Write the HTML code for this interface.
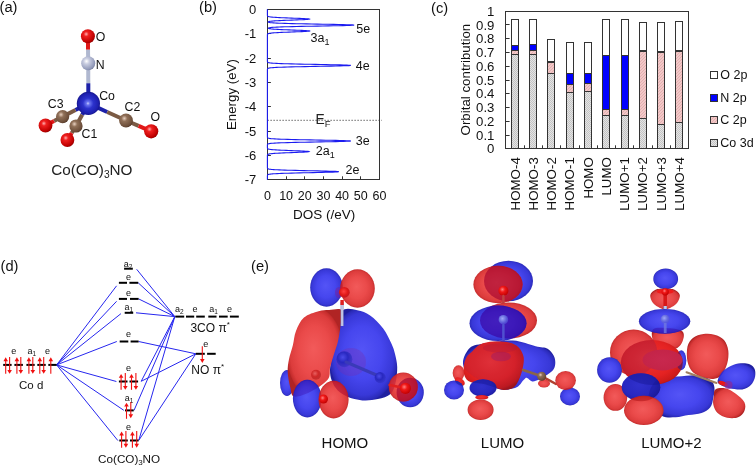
<!DOCTYPE html>
<html><head><meta charset="utf-8"><style>
html,body{margin:0;padding:0;background:#fff;}
svg{display:block;will-change:transform;}
text{font-family:"Liberation Sans", sans-serif;}
</style></head><body>
<svg width="756" height="466" viewBox="0 0 756 466">

<defs>
<radialGradient id="gRed" cx="0.38" cy="0.35" r="0.7">
 <stop offset="0" stop-color="#ffb0b0"/><stop offset="0.25" stop-color="#f02020"/><stop offset="0.8" stop-color="#c00000"/><stop offset="1" stop-color="#900000"/></radialGradient>
<radialGradient id="gN" cx="0.38" cy="0.35" r="0.7">
 <stop offset="0" stop-color="#ffffff"/><stop offset="0.3" stop-color="#c8cce0"/><stop offset="0.85" stop-color="#9098b8"/><stop offset="1" stop-color="#707898"/></radialGradient>
<radialGradient id="gCo" cx="0.5" cy="0.5" r="0.5" fx="0.48" fy="0.5">
 <stop offset="0" stop-color="#c8ccff"/><stop offset="0.15" stop-color="#6a74f0"/><stop offset="0.45" stop-color="#2c32cc"/><stop offset="0.85" stop-color="#1e20b0"/><stop offset="1" stop-color="#16168c"/></radialGradient>
<radialGradient id="gC" cx="0.38" cy="0.35" r="0.7">
 <stop offset="0" stop-color="#e8d0c0"/><stop offset="0.3" stop-color="#907058"/><stop offset="0.85" stop-color="#6a4c38"/><stop offset="1" stop-color="#4a3020"/></radialGradient>
<pattern id="pGray" width="2" height="2" patternUnits="userSpaceOnUse">
 <rect width="2" height="2" fill="#e4e4e4"/><rect width="1" height="1" fill="#c4c4c4"/><rect x="1" y="1" width="1" height="1" fill="#c4c4c4"/></pattern>
<pattern id="pPink" width="3" height="3" patternUnits="userSpaceOnUse">
 <rect width="3" height="3" fill="#f2c8c8"/><path d="M0,3 L3,0" stroke="#e0a8a8" stroke-width="0.8"/></pattern>
<radialGradient id="oR" cx="0.5" cy="0.5" r="0.52" fx="0.47" fy="0.45">
 <stop offset="0" stop-color="#f25a5a"/><stop offset="0.55" stop-color="#ea4a4a"/><stop offset="0.86" stop-color="#dc3c3c"/><stop offset="0.97" stop-color="#c42c2c"/><stop offset="1" stop-color="#b02424"/></radialGradient>
<radialGradient id="oB" cx="0.5" cy="0.5" r="0.52" fx="0.47" fy="0.45">
 <stop offset="0" stop-color="#5454f6"/><stop offset="0.55" stop-color="#4646ee"/><stop offset="0.86" stop-color="#3838d8"/><stop offset="0.97" stop-color="#2a2ab8"/><stop offset="1" stop-color="#2020a0"/></radialGradient>
<radialGradient id="oRd" cx="0.42" cy="0.4" r="0.65">
 <stop offset="0" stop-color="#e03040"/><stop offset="0.9" stop-color="#b82030"/><stop offset="1" stop-color="#a01828"/></radialGradient>
<radialGradient id="oBd" cx="0.42" cy="0.4" r="0.65">
 <stop offset="0" stop-color="#3030d0"/><stop offset="0.9" stop-color="#2020a8"/><stop offset="1" stop-color="#181890"/></radialGradient>
<radialGradient id="aR" cx="0.4" cy="0.38" r="0.65">
 <stop offset="0" stop-color="#ff8080"/><stop offset="0.4" stop-color="#f01818"/><stop offset="1" stop-color="#c00000"/></radialGradient>
<radialGradient id="aRin" cx="0.4" cy="0.38" r="0.65">
 <stop offset="0" stop-color="#e86060"/><stop offset="0.5" stop-color="#d02828"/><stop offset="1" stop-color="#b02020" stop-opacity="0.6"/></radialGradient>
<radialGradient id="aBin" cx="0.4" cy="0.38" r="0.65">
 <stop offset="0" stop-color="#4a4ae8"/><stop offset="0.5" stop-color="#2828c0"/><stop offset="1" stop-color="#3030c0" stop-opacity="0.5"/></radialGradient>
<radialGradient id="aNin" cx="0.4" cy="0.38" r="0.65">
 <stop offset="0" stop-color="#a0a8f8"/><stop offset="0.5" stop-color="#6a70e0"/><stop offset="1" stop-color="#5050d8" stop-opacity="0.6"/></radialGradient>
<radialGradient id="oRs" cx="0.45" cy="0.42" r="0.62">
 <stop offset="0" stop-color="#f03232"/><stop offset="0.65" stop-color="#e42222"/><stop offset="0.9" stop-color="#cc1a1a"/><stop offset="1" stop-color="#a81414"/></radialGradient>
<radialGradient id="oBs" cx="0.45" cy="0.42" r="0.62">
 <stop offset="0" stop-color="#3030cc"/><stop offset="0.65" stop-color="#2828c0"/><stop offset="0.9" stop-color="#2020a8"/><stop offset="1" stop-color="#181890"/></radialGradient>
<radialGradient id="oCr" cx="0.5" cy="0.5" r="0.6">
 <stop offset="0" stop-color="#c8284e"/><stop offset="0.8" stop-color="#c42448"/><stop offset="1" stop-color="#c02040" stop-opacity="0.7"/></radialGradient>
<linearGradient id="stickG" x1="0" y1="0" x2="1" y2="0">
 <stop offset="0" stop-color="#8088c0"/><stop offset="0.45" stop-color="#d8dcf4"/><stop offset="1" stop-color="#9098c8"/></linearGradient>
<radialGradient id="aRo" cx="0.45" cy="0.42" r="0.6">
 <stop offset="0" stop-color="#ff4040"/><stop offset="0.6" stop-color="#e01818"/><stop offset="1" stop-color="#c01820"/></radialGradient>
</defs>

<text x="-0.5" y="11.5" font-size="14.7" text-anchor="start" fill="#111" >(a)</text>
<line x1="87.9" y1="36.2" x2="88.05000000000001" y2="49.75" stroke="#e01818" stroke-width="4"/>
<line x1="88.05000000000001" y1="49.75" x2="88.2" y2="63.3" stroke="#b0b8d0" stroke-width="4"/>
<line x1="88.2" y1="63.3" x2="88.30000000000001" y2="83.35" stroke="#b0b8d0" stroke-width="4"/>
<line x1="88.30000000000001" y1="83.35" x2="88.4" y2="103.4" stroke="#1c20a8" stroke-width="4"/>
<line x1="88.4" y1="103.4" x2="75.5" y2="110.0" stroke="#1c20a8" stroke-width="4"/>
<line x1="75.5" y1="110.0" x2="62.6" y2="116.6" stroke="#7a5a44" stroke-width="4"/>
<line x1="62.6" y1="116.6" x2="54.05" y2="121.05" stroke="#7a5a44" stroke-width="4"/>
<line x1="54.05" y1="121.05" x2="45.5" y2="125.5" stroke="#e01818" stroke-width="4"/>
<line x1="88.4" y1="103.4" x2="82.2" y2="114.7" stroke="#1c20a8" stroke-width="4"/>
<line x1="82.2" y1="114.7" x2="76.0" y2="126.0" stroke="#7a5a44" stroke-width="4"/>
<line x1="76.0" y1="126.0" x2="71.7" y2="133.0" stroke="#7a5a44" stroke-width="4"/>
<line x1="71.7" y1="133.0" x2="67.4" y2="140.0" stroke="#e01818" stroke-width="4"/>
<line x1="88.4" y1="103.4" x2="107.2" y2="111.95" stroke="#1c20a8" stroke-width="4"/>
<line x1="107.2" y1="111.95" x2="126.0" y2="120.5" stroke="#7a5a44" stroke-width="4"/>
<line x1="126.0" y1="120.5" x2="138.6" y2="125.9" stroke="#7a5a44" stroke-width="4"/>
<line x1="138.6" y1="125.9" x2="151.2" y2="131.3" stroke="#e01818" stroke-width="4"/>
<circle cx="87.9" cy="36.2" r="7.0" fill="url(#gRed)"/>
<circle cx="88.2" cy="63.3" r="7.0" fill="url(#gN)"/>
<circle cx="151.2" cy="131.3" r="7.1" fill="url(#gRed)"/>
<circle cx="126.0" cy="120.5" r="6.9" fill="url(#gC)"/>
<circle cx="45.5" cy="125.5" r="6.9" fill="url(#gRed)"/>
<circle cx="62.6" cy="116.6" r="6.6" fill="url(#gC)"/>
<circle cx="88.4" cy="103.4" r="11.6" fill="url(#gCo)"/>
<circle cx="67.4" cy="140.0" r="6.9" fill="url(#gRed)"/>
<circle cx="76.0" cy="126.0" r="6.6" fill="url(#gC)"/>
<text x="95.8" y="40.6" font-size="12.3" text-anchor="start" fill="#111" >O</text>
<text x="95.8" y="68.6" font-size="12.3" text-anchor="start" fill="#111" >N</text>
<text x="99.2" y="100.3" font-size="12.3" text-anchor="start" fill="#111" >Co</text>
<text x="47.8" y="107.8" font-size="12.3" text-anchor="start" fill="#111" >C3</text>
<text x="81.5" y="138.4" font-size="12.3" text-anchor="start" fill="#111" >C1</text>
<text x="124.5" y="111.4" font-size="12.3" text-anchor="start" fill="#111" >C2</text>
<text x="150.6" y="121.4" font-size="12.3" text-anchor="start" fill="#111" >O</text>
<text x="51.2" y="174.5" font-size="15.3" fill="#222">Co(CO)<tspan font-size="10.2" dy="3">3</tspan><tspan dy="-3">NO</tspan></text>
<text x="199" y="11.5" font-size="14.7" text-anchor="start" fill="#111" >(b)</text>
<text x="256.2" y="13.9" font-size="13" text-anchor="end" fill="#111" >0</text>
<line x1="267.4" y1="33.5" x2="270.9" y2="33.5" stroke="#333" stroke-width="1"/>
<text x="256.2" y="38.25714285714286" font-size="13" text-anchor="end" fill="#111" >-1</text>
<line x1="267.4" y1="58.5" x2="270.9" y2="58.5" stroke="#333" stroke-width="1"/>
<text x="256.2" y="62.61428571428572" font-size="13" text-anchor="end" fill="#111" >-2</text>
<line x1="267.4" y1="82.5" x2="270.9" y2="82.5" stroke="#333" stroke-width="1"/>
<text x="256.2" y="86.97142857142856" font-size="13" text-anchor="end" fill="#111" >-3</text>
<line x1="267.4" y1="106.5" x2="270.9" y2="106.5" stroke="#333" stroke-width="1"/>
<text x="256.2" y="111.32857142857142" font-size="13" text-anchor="end" fill="#111" >-4</text>
<line x1="267.4" y1="131.5" x2="270.9" y2="131.5" stroke="#333" stroke-width="1"/>
<text x="256.2" y="135.68571428571428" font-size="13" text-anchor="end" fill="#111" >-5</text>
<line x1="267.4" y1="155.5" x2="270.9" y2="155.5" stroke="#333" stroke-width="1"/>
<text x="256.2" y="160.04285714285714" font-size="13" text-anchor="end" fill="#111" >-6</text>
<text x="256.2" y="184.4" font-size="13" text-anchor="end" fill="#111" >-7</text>
<text x="267.4" y="199.8" font-size="12.5" text-anchor="middle" fill="#111" >0</text>
<line x1="286.5" y1="179.8" x2="286.5" y2="176.3" stroke="#333" stroke-width="1"/>
<text x="286.0833333333333" y="199.8" font-size="12.5" text-anchor="middle" fill="#111" >10</text>
<line x1="304.5" y1="179.8" x2="304.5" y2="176.3" stroke="#333" stroke-width="1"/>
<text x="304.76666666666665" y="199.8" font-size="12.5" text-anchor="middle" fill="#111" >20</text>
<line x1="323.5" y1="179.8" x2="323.5" y2="176.3" stroke="#333" stroke-width="1"/>
<text x="323.45" y="199.8" font-size="12.5" text-anchor="middle" fill="#111" >30</text>
<line x1="342.5" y1="179.8" x2="342.5" y2="176.3" stroke="#333" stroke-width="1"/>
<text x="342.1333333333333" y="199.8" font-size="12.5" text-anchor="middle" fill="#111" >40</text>
<line x1="360.5" y1="179.8" x2="360.5" y2="176.3" stroke="#333" stroke-width="1"/>
<text x="360.81666666666666" y="199.8" font-size="12.5" text-anchor="middle" fill="#111" >50</text>
<text x="379.5" y="199.8" font-size="12.5" text-anchor="middle" fill="#111" >60</text>
<line x1="267.4" y1="120.3" x2="382" y2="120.3" stroke="#444" stroke-width="0.8" stroke-dasharray="1.5,1.5"/>
<text x="315.5" y="123.6" font-size="13.8" fill="#222">E<tspan font-size="9.5" dy="3">F</tspan></text>
<rect x="267.5" y="9.5" width="112.0" height="170.0" fill="none" stroke="#333" stroke-width="1"/>
<polyline points="267.40,9.30 267.40,9.40 267.40,9.50 267.40,9.60 267.40,9.70 267.40,9.80 267.40,9.90 267.40,10.00 267.40,10.10 267.40,10.20 267.40,10.30 267.40,10.40 267.40,10.50 267.40,10.60 267.40,10.70 267.40,10.80 267.40,10.90 267.40,11.00 267.40,11.10 267.40,11.20 267.40,11.30 267.40,11.40 267.40,11.50 267.40,11.60 267.40,11.70 267.40,11.80 267.40,11.90 267.40,12.00 267.40,12.10 267.40,12.20 267.40,12.30 267.40,12.40 267.40,12.50 267.40,12.60 267.40,12.70 267.40,12.80 267.40,12.90 267.40,13.00 267.40,13.10 267.40,13.20 267.40,13.30 267.40,13.40 267.40,13.50 267.40,13.60 267.40,13.70 267.40,13.80 267.40,13.90 267.40,14.00 267.40,14.10 267.40,14.20 267.40,14.30 267.40,14.40 267.40,14.50 267.40,14.60 267.40,14.70 267.40,14.80 267.40,14.90 267.40,15.00 267.41,15.10 267.41,15.20 267.41,15.30 267.42,15.40 267.43,15.50 267.45,15.60 267.47,15.70 267.50,15.80 267.54,15.90 267.60,16.00 267.69,16.10 267.80,16.20 267.95,16.30 268.14,16.40 268.39,16.50 268.72,16.60 269.13,16.70 269.64,16.80 270.28,16.90 271.05,17.00 271.98,17.10 273.09,17.20 274.38,17.30 275.88,17.40 277.58,17.50 279.49,17.60 281.59,17.70 283.88,17.80 286.33,17.90 288.90,18.00 291.56,18.10 294.24,18.20 296.89,18.30 299.44,18.40 301.84,18.50 304.00,18.60 305.87,18.70 307.39,18.80 308.52,18.90 309.21,19.00 309.44,19.10 309.21,19.20 308.52,19.30 307.39,19.40 305.87,19.50 304.00,19.60 301.84,19.70 299.44,19.80 296.89,19.90 294.24,20.00 291.56,20.10 288.90,20.20 286.33,20.30 283.88,20.40 281.59,20.50 279.49,20.60 277.58,20.70 275.88,20.80 274.39,20.90 273.10,21.00 272.00,21.10 271.07,21.20 270.31,21.30 269.69,21.40 269.19,21.50 268.82,21.60 268.54,21.70 268.35,21.80 268.24,21.90 268.22,22.00 268.28,22.10 268.43,22.20 268.67,22.30 269.03,22.40 269.52,22.50 270.17,22.60 271.00,22.70 272.05,22.80 273.35,22.90 274.94,23.00 276.86,23.10 279.14,23.20 281.80,23.30 284.88,23.40 288.39,23.50 292.32,23.60 296.67,23.70 301.39,23.80 306.44,23.90 311.74,24.00 317.22,24.10 322.75,24.20 328.21,24.30 333.48,24.40 338.42,24.50 342.88,24.60 346.74,24.70 349.87,24.80 352.19,24.90 353.61,25.00 354.09,25.10 353.61,25.20 352.19,25.30 349.87,25.40 346.74,25.50 342.88,25.60 338.42,25.70 333.48,25.80 328.21,25.90 322.75,26.00 317.22,26.10 311.74,26.20 306.44,26.30 301.39,26.40 296.67,26.50 292.32,26.60 288.39,26.70 284.89,26.80 281.81,26.90 279.14,27.00 276.86,27.10 274.95,27.20 273.36,27.30 272.06,27.40 271.01,27.50 270.19,27.60 269.55,27.70 269.07,27.80 268.73,27.90 268.51,28.00 268.39,28.10 268.37,28.20 268.44,28.30 268.60,28.40 268.86,28.50 269.23,28.60 269.71,28.70 270.32,28.80 271.08,28.90 272.00,29.00 273.10,29.10 274.39,29.20 275.88,29.30 277.58,29.40 279.49,29.50 281.59,29.60 283.88,29.70 286.33,29.80 288.90,29.90 291.56,30.00 294.24,30.10 296.89,30.20 299.44,30.30 301.84,30.40 304.00,30.50 305.87,30.60 307.39,30.70 308.52,30.80 309.21,30.90 309.44,31.00 309.21,31.10 308.52,31.20 307.39,31.30 305.87,31.40 304.00,31.50 301.84,31.60 299.44,31.70 296.89,31.80 294.24,31.90 291.56,32.00 288.90,32.10 286.33,32.20 283.88,32.30 281.59,32.40 279.49,32.50 277.58,32.60 275.88,32.70 274.38,32.80 273.09,32.90 271.98,33.00 271.05,33.10 270.28,33.20 269.64,33.30 269.13,33.40 268.72,33.50 268.39,33.60 268.14,33.70 267.95,33.80 267.80,33.90 267.69,34.00 267.60,34.10 267.54,34.20 267.50,34.30 267.47,34.40 267.45,34.50 267.43,34.60 267.42,34.70 267.41,34.80 267.41,34.90 267.41,35.00 267.40,35.10 267.40,35.20 267.40,35.30 267.40,35.40 267.40,35.50 267.40,35.60 267.40,35.70 267.40,35.80 267.40,35.90 267.40,36.00 267.40,36.10 267.40,36.20 267.40,36.30 267.40,36.40 267.40,36.50 267.40,36.60 267.40,36.70 267.40,36.80 267.40,36.90 267.40,37.00 267.40,37.10 267.40,37.20 267.40,37.30 267.40,37.40 267.40,37.50 267.40,37.60 267.40,37.70 267.40,37.80 267.40,37.90 267.40,38.00 267.40,38.10 267.40,38.20 267.40,38.30 267.40,38.40 267.40,38.50 267.40,38.60 267.40,38.70 267.40,38.80 267.40,38.90 267.40,39.00 267.40,39.10 267.40,39.20 267.40,39.30 267.40,39.40 267.40,39.50 267.40,39.60 267.40,39.70 267.40,39.80 267.40,39.90 267.40,40.00 267.40,40.10 267.40,40.20 267.40,40.30 267.40,40.40 267.40,40.50 267.40,40.60 267.40,40.70 267.40,40.80 267.40,40.90 267.40,41.00 267.40,41.10 267.40,41.20 267.40,41.30 267.40,41.40 267.40,41.50 267.40,41.60 267.40,41.70 267.40,41.80 267.40,41.90 267.40,42.00 267.40,42.10 267.40,42.20 267.40,42.30 267.40,42.40 267.40,42.50 267.40,42.60 267.40,42.70 267.40,42.80 267.40,42.90 267.40,43.00 267.40,43.10 267.40,43.20 267.40,43.30 267.40,43.40 267.40,43.50 267.40,43.60 267.40,43.70 267.40,43.80 267.40,43.90 267.40,44.00 267.40,44.10 267.40,44.20 267.40,44.30 267.40,44.40 267.40,44.50 267.40,44.60 267.40,44.70 267.40,44.80 267.40,44.90 267.40,45.00 267.40,45.10 267.40,45.20 267.40,45.30 267.40,45.40 267.40,45.50 267.40,45.60 267.40,45.70 267.40,45.80 267.40,45.90 267.40,46.00 267.40,46.10 267.40,46.20 267.40,46.30 267.40,46.40 267.40,46.50 267.40,46.60 267.40,46.70 267.40,46.80 267.40,46.90 267.40,47.00 267.40,47.10 267.40,47.20 267.40,47.30 267.40,47.40 267.40,47.50 267.40,47.60 267.40,47.70 267.40,47.80 267.40,47.90 267.40,48.00 267.40,48.10 267.40,48.20 267.40,48.30 267.40,48.40 267.40,48.50 267.40,48.60 267.40,48.70 267.40,48.80 267.40,48.90 267.40,49.00 267.40,49.10 267.40,49.20 267.40,49.30 267.40,49.40 267.40,49.50 267.40,49.60 267.40,49.70 267.40,49.80 267.40,49.90 267.40,50.00 267.40,50.10 267.40,50.20 267.40,50.30 267.40,50.40 267.40,50.50 267.40,50.60 267.40,50.70 267.40,50.80 267.40,50.90 267.40,51.00 267.40,51.10 267.40,51.20 267.40,51.30 267.40,51.40 267.40,51.50 267.40,51.60 267.40,51.70 267.40,51.80 267.40,51.90 267.40,52.00 267.40,52.10 267.40,52.20 267.40,52.30 267.40,52.40 267.40,52.50 267.40,52.60 267.40,52.70 267.40,52.80 267.40,52.90 267.40,53.00 267.40,53.10 267.40,53.20 267.40,53.30 267.40,53.40 267.40,53.50 267.40,53.60 267.40,53.70 267.40,53.80 267.40,53.90 267.40,54.00 267.40,54.10 267.40,54.20 267.40,54.30 267.40,54.40 267.40,54.50 267.40,54.60 267.40,54.70 267.40,54.80 267.40,54.90 267.40,55.00 267.40,55.10 267.40,55.20 267.40,55.30 267.40,55.40 267.40,55.50 267.40,55.60 267.40,55.70 267.40,55.80 267.40,55.90 267.40,56.00 267.40,56.10 267.40,56.20 267.40,56.30 267.40,56.40 267.40,56.50 267.40,56.60 267.40,56.70 267.40,56.80 267.40,56.90 267.40,57.00 267.40,57.10 267.40,57.20 267.40,57.30 267.40,57.40 267.40,57.50 267.40,57.60 267.40,57.70 267.40,57.80 267.40,57.90 267.40,58.00 267.40,58.10 267.40,58.20 267.40,58.30 267.40,58.40 267.40,58.50 267.40,58.60 267.40,58.70 267.40,58.80 267.40,58.90 267.40,59.00 267.40,59.10 267.40,59.20 267.40,59.30 267.40,59.40 267.40,59.50 267.40,59.60 267.40,59.70 267.40,59.80 267.40,59.90 267.40,60.00 267.40,60.10 267.40,60.20 267.40,60.30 267.40,60.40 267.40,60.50 267.40,60.60 267.40,60.70 267.40,60.80 267.40,60.90 267.40,61.00 267.40,61.10 267.40,61.20 267.41,61.30 267.41,61.40 267.42,61.50 267.43,61.60 267.44,61.70 267.46,61.80 267.49,61.90 267.54,62.00 267.60,62.10 267.69,62.20 267.81,62.30 267.97,62.40 268.19,62.50 268.48,62.60 268.87,62.70 269.37,62.80 270.01,62.90 270.83,63.00 271.85,63.10 273.10,63.20 274.64,63.30 276.49,63.40 278.68,63.50 281.24,63.60 284.20,63.70 287.58,63.80 291.36,63.90 295.53,64.00 300.07,64.10 304.92,64.20 310.02,64.30 315.28,64.40 320.60,64.50 325.85,64.60 330.92,64.70 335.66,64.80 339.95,64.90 343.66,65.00 346.67,65.10 348.90,65.20 350.27,65.30 350.73,65.40 350.27,65.50 348.90,65.60 346.67,65.70 343.66,65.80 339.95,65.90 335.66,66.00 330.92,66.10 325.85,66.20 320.60,66.30 315.28,66.40 310.02,66.50 304.92,66.60 300.07,66.70 295.53,66.80 291.36,66.90 287.58,67.00 284.20,67.10 281.24,67.20 278.68,67.30 276.49,67.40 274.64,67.50 273.10,67.60 271.85,67.70 270.83,67.80 270.01,67.90 269.37,68.00 268.87,68.10 268.48,68.20 268.19,68.30 267.97,68.40 267.81,68.50 267.69,68.60 267.60,68.70 267.54,68.80 267.49,68.90 267.46,69.00 267.44,69.10 267.43,69.20 267.42,69.30 267.41,69.40 267.41,69.50 267.40,69.60 267.40,69.70 267.40,69.80 267.40,69.90 267.40,70.00 267.40,70.10 267.40,70.20 267.40,70.30 267.40,70.40 267.40,70.50 267.40,70.60 267.40,70.70 267.40,70.80 267.40,70.90 267.40,71.00 267.40,71.10 267.40,71.20 267.40,71.30 267.40,71.40 267.40,71.50 267.40,71.60 267.40,71.70 267.40,71.80 267.40,71.90 267.40,72.00 267.40,72.10 267.40,72.20 267.40,72.30 267.40,72.40 267.40,72.50 267.40,72.60 267.40,72.70 267.40,72.80 267.40,72.90 267.40,73.00 267.40,73.10 267.40,73.20 267.40,73.30 267.40,73.40 267.40,73.50 267.40,73.60 267.40,73.70 267.40,73.80 267.40,73.90 267.40,74.00 267.40,74.10 267.40,74.20 267.40,74.30 267.40,74.40 267.40,74.50 267.40,74.60 267.40,74.70 267.40,74.80 267.40,74.90 267.40,75.00 267.40,75.10 267.40,75.20 267.40,75.30 267.40,75.40 267.40,75.50 267.40,75.60 267.40,75.70 267.40,75.80 267.40,75.90 267.40,76.00 267.40,76.10 267.40,76.20 267.40,76.30 267.40,76.40 267.40,76.50 267.40,76.60 267.40,76.70 267.40,76.80 267.40,76.90 267.40,77.00 267.40,77.10 267.40,77.20 267.40,77.30 267.40,77.40 267.40,77.50 267.40,77.60 267.40,77.70 267.40,77.80 267.40,77.90 267.40,78.00 267.40,78.10 267.40,78.20 267.40,78.30 267.40,78.40 267.40,78.50 267.40,78.60 267.40,78.70 267.40,78.80 267.40,78.90 267.40,79.00 267.40,79.10 267.40,79.20 267.40,79.30 267.40,79.40 267.40,79.50 267.40,79.60 267.40,79.70 267.40,79.80 267.40,79.90 267.40,80.00 267.40,80.10 267.40,80.20 267.40,80.30 267.40,80.40 267.40,80.50 267.40,80.60 267.40,80.70 267.40,80.80 267.40,80.90 267.40,81.00 267.40,81.10 267.40,81.20 267.40,81.30 267.40,81.40 267.40,81.50 267.40,81.60 267.40,81.70 267.40,81.80 267.40,81.90 267.40,82.00 267.40,82.10 267.40,82.20 267.40,82.30 267.40,82.40 267.40,82.50 267.40,82.60 267.40,82.70 267.40,82.80 267.40,82.90 267.40,83.00 267.40,83.10 267.40,83.20 267.40,83.30 267.40,83.40 267.40,83.50 267.40,83.60 267.40,83.70 267.40,83.80 267.40,83.90 267.40,84.00 267.40,84.10 267.40,84.20 267.40,84.30 267.40,84.40 267.40,84.50 267.40,84.60 267.40,84.70 267.40,84.80 267.40,84.90 267.40,85.00 267.40,85.10 267.40,85.20 267.40,85.30 267.40,85.40 267.40,85.50 267.40,85.60 267.40,85.70 267.40,85.80 267.40,85.90 267.40,86.00 267.40,86.10 267.40,86.20 267.40,86.30 267.40,86.40 267.40,86.50 267.40,86.60 267.40,86.70 267.40,86.80 267.40,86.90 267.40,87.00 267.40,87.10 267.40,87.20 267.40,87.30 267.40,87.40 267.40,87.50 267.40,87.60 267.40,87.70 267.40,87.80 267.40,87.90 267.40,88.00 267.40,88.10 267.40,88.20 267.40,88.30 267.40,88.40 267.40,88.50 267.40,88.60 267.40,88.70 267.40,88.80 267.40,88.90 267.40,89.00 267.40,89.10 267.40,89.20 267.40,89.30 267.40,89.40 267.40,89.50 267.40,89.60 267.40,89.70 267.40,89.80 267.40,89.90 267.40,90.00 267.40,90.10 267.40,90.20 267.40,90.30 267.40,90.40 267.40,90.50 267.40,90.60 267.40,90.70 267.40,90.80 267.40,90.90 267.40,91.00 267.40,91.10 267.40,91.20 267.40,91.30 267.40,91.40 267.40,91.50 267.40,91.60 267.40,91.70 267.40,91.80 267.40,91.90 267.40,92.00 267.40,92.10 267.40,92.20 267.40,92.30 267.40,92.40 267.40,92.50 267.40,92.60 267.40,92.70 267.40,92.80 267.40,92.90 267.40,93.00 267.40,93.10 267.40,93.20 267.40,93.30 267.40,93.40 267.40,93.50 267.40,93.60 267.40,93.70 267.40,93.80 267.40,93.90 267.40,94.00 267.40,94.10 267.40,94.20 267.40,94.30 267.40,94.40 267.40,94.50 267.40,94.60 267.40,94.70 267.40,94.80 267.40,94.90 267.40,95.00 267.40,95.10 267.40,95.20 267.40,95.30 267.40,95.40 267.40,95.50 267.40,95.60 267.40,95.70 267.40,95.80 267.40,95.90 267.40,96.00 267.40,96.10 267.40,96.20 267.40,96.30 267.40,96.40 267.40,96.50 267.40,96.60 267.40,96.70 267.40,96.80 267.40,96.90 267.40,97.00 267.40,97.10 267.40,97.20 267.40,97.30 267.40,97.40 267.40,97.50 267.40,97.60 267.40,97.70 267.40,97.80 267.40,97.90 267.40,98.00 267.40,98.10 267.40,98.20 267.40,98.30 267.40,98.40 267.40,98.50 267.40,98.60 267.40,98.70 267.40,98.80 267.40,98.90 267.40,99.00 267.40,99.10 267.40,99.20 267.40,99.30 267.40,99.40 267.40,99.50 267.40,99.60 267.40,99.70 267.40,99.80 267.40,99.90 267.40,100.00 267.40,100.10 267.40,100.20 267.40,100.30 267.40,100.40 267.40,100.50 267.40,100.60 267.40,100.70 267.40,100.80 267.40,100.90 267.40,101.00 267.40,101.10 267.40,101.20 267.40,101.30 267.40,101.40 267.40,101.50 267.40,101.60 267.40,101.70 267.40,101.80 267.40,101.90 267.40,102.00 267.40,102.10 267.40,102.20 267.40,102.30 267.40,102.40 267.40,102.50 267.40,102.60 267.40,102.70 267.40,102.80 267.40,102.90 267.40,103.00 267.40,103.10 267.40,103.20 267.40,103.30 267.40,103.40 267.40,103.50 267.40,103.60 267.40,103.70 267.40,103.80 267.40,103.90 267.40,104.00 267.40,104.10 267.40,104.20 267.40,104.30 267.40,104.40 267.40,104.50 267.40,104.60 267.40,104.70 267.40,104.80 267.40,104.90 267.40,105.00 267.40,105.10 267.40,105.20 267.40,105.30 267.40,105.40 267.40,105.50 267.40,105.60 267.40,105.70 267.40,105.80 267.40,105.90 267.40,106.00 267.40,106.10 267.40,106.20 267.40,106.30 267.40,106.40 267.40,106.50 267.40,106.60 267.40,106.70 267.40,106.80 267.40,106.90 267.40,107.00 267.40,107.10 267.40,107.20 267.40,107.30 267.40,107.40 267.40,107.50 267.40,107.60 267.40,107.70 267.40,107.80 267.40,107.90 267.40,108.00 267.40,108.10 267.40,108.20 267.40,108.30 267.40,108.40 267.40,108.50 267.40,108.60 267.40,108.70 267.40,108.80 267.40,108.90 267.40,109.00 267.40,109.10 267.40,109.20 267.40,109.30 267.40,109.40 267.40,109.50 267.40,109.60 267.40,109.70 267.40,109.80 267.40,109.90 267.40,110.00 267.40,110.10 267.40,110.20 267.40,110.30 267.40,110.40 267.40,110.50 267.40,110.60 267.40,110.70 267.40,110.80 267.40,110.90 267.40,111.00 267.40,111.10 267.40,111.20 267.40,111.30 267.40,111.40 267.40,111.50 267.40,111.60 267.40,111.70 267.40,111.80 267.40,111.90 267.40,112.00 267.40,112.10 267.40,112.20 267.40,112.30 267.40,112.40 267.40,112.50 267.40,112.60 267.40,112.70 267.40,112.80 267.40,112.90 267.40,113.00 267.40,113.10 267.40,113.20 267.40,113.30 267.40,113.40 267.40,113.50 267.40,113.60 267.40,113.70 267.40,113.80 267.40,113.90 267.40,114.00 267.40,114.10 267.40,114.20 267.40,114.30 267.40,114.40 267.40,114.50 267.40,114.60 267.40,114.70 267.40,114.80 267.40,114.90 267.40,115.00 267.40,115.10 267.40,115.20 267.40,115.30 267.40,115.40 267.40,115.50 267.40,115.60 267.40,115.70 267.40,115.80 267.40,115.90 267.40,116.00 267.40,116.10 267.40,116.20 267.40,116.30 267.40,116.40 267.40,116.50 267.40,116.60 267.40,116.70 267.40,116.80 267.40,116.90 267.40,117.00 267.40,117.10 267.40,117.20 267.40,117.30 267.40,117.40 267.40,117.50 267.40,117.60 267.40,117.70 267.40,117.80 267.40,117.90 267.40,118.00 267.40,118.10 267.40,118.20 267.40,118.30 267.40,118.40 267.40,118.50 267.40,118.60 267.40,118.70 267.40,118.80 267.40,118.90 267.40,119.00 267.40,119.10 267.40,119.20 267.40,119.30 267.40,119.40 267.40,119.50 267.40,119.60 267.40,119.70 267.40,119.80 267.40,119.90 267.40,120.00 267.40,120.10 267.40,120.20 267.40,120.30 267.40,120.40 267.40,120.50 267.40,120.60 267.40,120.70 267.40,120.80 267.40,120.90 267.40,121.00 267.40,121.10 267.40,121.20 267.40,121.30 267.40,121.40 267.40,121.50 267.40,121.60 267.40,121.70 267.40,121.80 267.40,121.90 267.40,122.00 267.40,122.10 267.40,122.20 267.40,122.30 267.40,122.40 267.40,122.50 267.40,122.60 267.40,122.70 267.40,122.80 267.40,122.90 267.40,123.00 267.40,123.10 267.40,123.20 267.40,123.30 267.40,123.40 267.40,123.50 267.40,123.60 267.40,123.70 267.40,123.80 267.40,123.90 267.40,124.00 267.40,124.10 267.40,124.20 267.40,124.30 267.40,124.40 267.40,124.50 267.40,124.60 267.40,124.70 267.40,124.80 267.40,124.90 267.40,125.00 267.40,125.10 267.40,125.20 267.40,125.30 267.40,125.40 267.40,125.50 267.40,125.60 267.40,125.70 267.40,125.80 267.40,125.90 267.40,126.00 267.40,126.10 267.40,126.20 267.40,126.30 267.40,126.40 267.40,126.50 267.40,126.60 267.40,126.70 267.40,126.80 267.40,126.90 267.40,127.00 267.40,127.10 267.40,127.20 267.40,127.30 267.40,127.40 267.40,127.50 267.40,127.60 267.40,127.70 267.40,127.80 267.40,127.90 267.40,128.00 267.40,128.10 267.40,128.20 267.40,128.30 267.40,128.40 267.40,128.50 267.40,128.60 267.40,128.70 267.40,128.80 267.40,128.90 267.40,129.00 267.40,129.10 267.40,129.20 267.40,129.30 267.40,129.40 267.40,129.50 267.40,129.60 267.40,129.70 267.40,129.80 267.40,129.90 267.40,130.00 267.40,130.10 267.40,130.20 267.40,130.30 267.40,130.40 267.40,130.50 267.40,130.60 267.40,130.70 267.40,130.80 267.40,130.90 267.40,131.00 267.40,131.10 267.40,131.20 267.40,131.30 267.40,131.40 267.40,131.50 267.40,131.60 267.40,131.70 267.40,131.80 267.40,131.90 267.40,132.00 267.40,132.10 267.40,132.20 267.40,132.30 267.40,132.40 267.40,132.50 267.40,132.60 267.40,132.70 267.40,132.80 267.40,132.90 267.40,133.00 267.40,133.10 267.40,133.20 267.40,133.30 267.40,133.40 267.40,133.50 267.40,133.60 267.40,133.70 267.40,133.80 267.40,133.90 267.40,134.00 267.40,134.10 267.40,134.20 267.40,134.30 267.40,134.40 267.40,134.50 267.40,134.60 267.40,134.70 267.40,134.80 267.40,134.90 267.40,135.00 267.40,135.10 267.40,135.20 267.40,135.30 267.40,135.40 267.40,135.50 267.40,135.60 267.40,135.70 267.40,135.80 267.40,135.90 267.40,136.00 267.40,136.10 267.40,136.20 267.40,136.30 267.40,136.40 267.40,136.50 267.40,136.60 267.40,136.70 267.40,136.80 267.41,136.90 267.41,137.00 267.42,137.10 267.43,137.20 267.44,137.30 267.46,137.40 267.49,137.50 267.54,137.60 267.60,137.70 267.69,137.80 267.81,137.90 267.97,138.00 268.19,138.10 268.48,138.20 268.87,138.30 269.37,138.40 270.01,138.50 270.83,138.60 271.85,138.70 273.10,138.80 274.64,138.90 276.49,139.00 278.68,139.10 281.24,139.20 284.20,139.30 287.58,139.40 291.36,139.50 295.53,139.60 300.07,139.70 304.92,139.80 310.02,139.90 315.28,140.00 320.60,140.10 325.85,140.20 330.92,140.30 335.66,140.40 339.95,140.50 343.66,140.60 346.67,140.70 348.90,140.80 350.27,140.90 350.73,141.00 350.27,141.10 348.90,141.20 346.67,141.30 343.66,141.40 339.95,141.50 335.66,141.60 330.92,141.70 325.85,141.80 320.60,141.90 315.28,142.00 310.02,142.10 304.92,142.20 300.07,142.30 295.53,142.40 291.36,142.50 287.58,142.60 284.20,142.70 281.24,142.80 278.68,142.90 276.49,143.00 274.64,143.10 273.10,143.20 271.85,143.30 270.83,143.40 270.01,143.50 269.37,143.60 268.87,143.70 268.48,143.80 268.19,143.90 267.97,144.00 267.81,144.10 267.69,144.20 267.60,144.30 267.54,144.40 267.49,144.50 267.46,144.60 267.44,144.70 267.43,144.80 267.42,144.90 267.41,145.00 267.41,145.10 267.40,145.20 267.40,145.30 267.40,145.40 267.40,145.50 267.40,145.60 267.40,145.70 267.40,145.80 267.40,145.90 267.40,146.00 267.40,146.10 267.40,146.20 267.40,146.30 267.40,146.40 267.40,146.50 267.40,146.60 267.40,146.70 267.40,146.80 267.40,146.90 267.40,147.00 267.40,147.10 267.40,147.20 267.40,147.30 267.40,147.40 267.40,147.50 267.41,147.60 267.41,147.70 267.41,147.80 267.42,147.90 267.43,148.00 267.45,148.10 267.47,148.20 267.50,148.30 267.54,148.40 267.60,148.50 267.68,148.60 267.79,148.70 267.94,148.80 268.13,148.90 268.38,149.00 268.71,149.10 269.11,149.20 269.62,149.30 270.25,149.40 271.02,149.50 271.94,149.60 273.04,149.70 274.32,149.80 275.80,149.90 277.49,150.00 279.38,150.10 281.47,150.20 283.74,150.30 286.16,150.40 288.71,150.50 291.34,150.60 294.00,150.70 296.63,150.80 299.16,150.90 301.53,151.00 303.68,151.10 305.53,151.20 307.04,151.30 308.15,151.40 308.83,151.50 309.06,151.60 308.83,151.70 308.15,151.80 307.04,151.90 305.53,152.00 303.68,152.10 301.53,152.20 299.16,152.30 296.63,152.40 294.00,152.50 291.34,152.60 288.71,152.70 286.16,152.80 283.74,152.90 281.47,153.00 279.38,153.10 277.49,153.20 275.80,153.30 274.32,153.40 273.04,153.50 271.94,153.60 271.02,153.70 270.25,153.80 269.62,153.90 269.11,154.00 268.71,154.10 268.38,154.20 268.13,154.30 267.94,154.40 267.79,154.50 267.68,154.60 267.60,154.70 267.54,154.80 267.50,154.90 267.47,155.00 267.45,155.10 267.43,155.20 267.42,155.30 267.41,155.40 267.41,155.50 267.41,155.60 267.40,155.70 267.40,155.80 267.40,155.90 267.40,156.00 267.40,156.10 267.40,156.20 267.40,156.30 267.40,156.40 267.40,156.50 267.40,156.60 267.40,156.70 267.40,156.80 267.40,156.90 267.40,157.00 267.40,157.10 267.40,157.20 267.40,157.30 267.40,157.40 267.40,157.50 267.40,157.60 267.40,157.70 267.40,157.80 267.40,157.90 267.40,158.00 267.40,158.10 267.40,158.20 267.40,158.30 267.40,158.40 267.40,158.50 267.40,158.60 267.40,158.70 267.40,158.80 267.40,158.90 267.40,159.00 267.40,159.10 267.40,159.20 267.40,159.30 267.40,159.40 267.40,159.50 267.40,159.60 267.40,159.70 267.40,159.80 267.40,159.90 267.40,160.00 267.40,160.10 267.40,160.20 267.40,160.30 267.40,160.40 267.40,160.50 267.40,160.60 267.40,160.70 267.40,160.80 267.40,160.90 267.40,161.00 267.40,161.10 267.40,161.20 267.40,161.30 267.40,161.40 267.40,161.50 267.40,161.60 267.40,161.70 267.40,161.80 267.40,161.90 267.40,162.00 267.40,162.10 267.40,162.20 267.40,162.30 267.40,162.40 267.40,162.50 267.40,162.60 267.40,162.70 267.40,162.80 267.40,162.90 267.40,163.00 267.40,163.10 267.40,163.20 267.40,163.30 267.40,163.40 267.40,163.50 267.40,163.60 267.40,163.70 267.40,163.80 267.40,163.90 267.40,164.00 267.40,164.10 267.40,164.20 267.40,164.30 267.40,164.40 267.40,164.50 267.40,164.60 267.40,164.70 267.40,164.80 267.40,164.90 267.40,165.00 267.40,165.10 267.40,165.20 267.40,165.30 267.40,165.40 267.40,165.50 267.40,165.60 267.40,165.70 267.40,165.80 267.40,165.90 267.40,166.00 267.40,166.10 267.40,166.20 267.40,166.30 267.40,166.40 267.40,166.50 267.40,166.60 267.40,166.70 267.40,166.80 267.40,166.90 267.40,167.00 267.40,167.10 267.40,167.20 267.40,167.30 267.40,167.40 267.40,167.50 267.41,167.60 267.41,167.70 267.42,167.80 267.42,167.90 267.44,168.00 267.45,168.10 267.48,168.20 267.52,168.30 267.57,168.40 267.65,168.50 267.75,168.60 267.89,168.70 268.08,168.80 268.33,168.90 268.66,169.00 269.09,169.10 269.64,169.20 270.34,169.30 271.21,169.40 272.29,169.50 273.60,169.60 275.18,169.70 277.06,169.80 279.26,169.90 281.79,170.00 284.68,170.10 287.92,170.20 291.50,170.30 295.38,170.40 299.54,170.50 303.91,170.60 308.41,170.70 312.96,170.80 317.46,170.90 321.80,171.00 325.87,171.10 329.54,171.20 332.72,171.30 335.30,171.40 337.21,171.50 338.38,171.60 338.77,171.70 338.38,171.80 337.21,171.90 335.30,172.00 332.72,172.10 329.54,172.20 325.87,172.30 321.80,172.40 317.46,172.50 312.96,172.60 308.41,172.70 303.91,172.80 299.54,172.90 295.38,173.00 291.50,173.10 287.92,173.20 284.68,173.30 281.79,173.40 279.26,173.50 277.06,173.60 275.18,173.70 273.60,173.80 272.29,173.90 271.21,174.00 270.34,174.10 269.64,174.20 269.09,174.30 268.66,174.40 268.33,174.50 268.08,174.60 267.89,174.70 267.75,174.80 267.65,174.90 267.57,175.00 267.52,175.10 267.48,175.20 267.45,175.30 267.44,175.40 267.42,175.50 267.42,175.60 267.41,175.70 267.41,175.80 267.40,175.90 267.40,176.00 267.40,176.10 267.40,176.20 267.40,176.30 267.40,176.40 267.40,176.50 267.40,176.60 267.40,176.70 267.40,176.80 267.40,176.90 267.40,177.00 267.40,177.10 267.40,177.20 267.40,177.30 267.40,177.40 267.40,177.50 267.40,177.60 267.40,177.70 267.40,177.80 267.40,177.90 267.40,178.00 267.40,178.10 267.40,178.20 267.40,178.30 267.40,178.40 267.40,178.50 267.40,178.60 267.40,178.70 267.40,178.80 267.40,178.90 267.40,179.00 267.40,179.10 267.40,179.20 267.40,179.30 267.40,179.40 267.40,179.50 267.40,179.60 267.40,179.70 267.40,179.80" fill="none" stroke="#1c1cf0" stroke-width="1.1"/>
<text x="267.4" y="9.3" font-size="1"></text>
<text x="356.2" y="32.8" font-size="12.5" text-anchor="start" fill="#111" >5e</text>
<text x="310.5" y="42" font-size="12.5" fill="#111">3a<tspan font-size="9" dy="3">1</tspan></text>
<text x="355.8" y="69.8" font-size="12.5" text-anchor="start" fill="#111" >4e</text>
<text x="355.8" y="145" font-size="12.5" text-anchor="start" fill="#111" >3e</text>
<text x="315.8" y="155" font-size="12.5" fill="#111">2a<tspan font-size="9" dy="3">1</tspan></text>
<text x="345.6" y="173.8" font-size="12.5" text-anchor="start" fill="#111" >2e</text>
<text transform="translate(236.3,130.1) rotate(-90)" font-size="13.3" fill="#111">Energy (eV)</text>
<text x="293" y="219.4" font-size="13.5" text-anchor="start" fill="#111" >DOS (/eV)</text>
<text x="431" y="12.5" font-size="14.7" text-anchor="start" fill="#111" >(c)</text>
<text x="494.4" y="153.4" font-size="13.2" text-anchor="end" fill="#111" >0</text>
<line x1="505.6" y1="135.5" x2="509.6" y2="135.5" stroke="#333" stroke-width="1"/>
<text x="494.4" y="139.64000000000001" font-size="13.2" text-anchor="end" fill="#111" >0.1</text>
<line x1="505.6" y1="121.5" x2="509.6" y2="121.5" stroke="#333" stroke-width="1"/>
<text x="494.4" y="125.88" font-size="13.2" text-anchor="end" fill="#111" >0.2</text>
<line x1="505.6" y1="107.5" x2="509.6" y2="107.5" stroke="#333" stroke-width="1"/>
<text x="494.4" y="112.12" font-size="13.2" text-anchor="end" fill="#111" >0.3</text>
<line x1="505.6" y1="93.5" x2="509.6" y2="93.5" stroke="#333" stroke-width="1"/>
<text x="494.4" y="98.36" font-size="13.2" text-anchor="end" fill="#111" >0.4</text>
<line x1="505.6" y1="80.5" x2="509.6" y2="80.5" stroke="#333" stroke-width="1"/>
<text x="494.4" y="84.6" font-size="13.2" text-anchor="end" fill="#111" >0.5</text>
<line x1="505.6" y1="66.5" x2="509.6" y2="66.5" stroke="#333" stroke-width="1"/>
<text x="494.4" y="70.84" font-size="13.2" text-anchor="end" fill="#111" >0.6</text>
<line x1="505.6" y1="52.5" x2="509.6" y2="52.5" stroke="#333" stroke-width="1"/>
<text x="494.4" y="57.080000000000005" font-size="13.2" text-anchor="end" fill="#111" >0.7</text>
<line x1="505.6" y1="38.5" x2="509.6" y2="38.5" stroke="#333" stroke-width="1"/>
<text x="494.4" y="43.32" font-size="13.2" text-anchor="end" fill="#111" >0.8</text>
<line x1="505.6" y1="24.5" x2="509.6" y2="24.5" stroke="#333" stroke-width="1"/>
<text x="494.4" y="29.559999999999995" font-size="13.2" text-anchor="end" fill="#111" >0.9</text>
<text x="494.4" y="15.799999999999988" font-size="13.2" text-anchor="end" fill="#111" >1</text>
<rect x="511.5" y="54.5" width="7" height="94.0" fill="url(#pGray)" stroke="#333" stroke-width="1"/>
<rect x="511.5" y="50.5" width="7" height="4.0" fill="url(#pPink)" stroke="#333" stroke-width="1"/>
<rect x="511.5" y="45.5" width="7" height="5.0" fill="#0000ff" stroke="#333" stroke-width="1"/>
<rect x="511.5" y="19.5" width="7" height="26.0" fill="#ffffff" stroke="#333" stroke-width="1"/>
<text transform="translate(519.50,157.2) rotate(-90)" font-size="13.3" text-anchor="end" fill="#111">HOMO-4</text>
<rect x="529.5" y="54.5" width="7" height="94.0" fill="url(#pGray)" stroke="#333" stroke-width="1"/>
<rect x="529.5" y="50.5" width="7" height="4.0" fill="url(#pPink)" stroke="#333" stroke-width="1"/>
<rect x="529.5" y="44.5" width="7" height="6.0" fill="#0000ff" stroke="#333" stroke-width="1"/>
<rect x="529.5" y="19.5" width="7" height="25.0" fill="#ffffff" stroke="#333" stroke-width="1"/>
<text transform="translate(537.76,157.2) rotate(-90)" font-size="13.3" text-anchor="end" fill="#111">HOMO-3</text>
<rect x="547.5" y="73.5" width="7" height="75.0" fill="url(#pGray)" stroke="#333" stroke-width="1"/>
<rect x="547.5" y="62.5" width="7" height="11.0" fill="url(#pPink)" stroke="#333" stroke-width="1"/>
<rect x="547.5" y="61.5" width="7" height="1.0" fill="#0000ff" stroke="#333" stroke-width="1"/>
<rect x="547.5" y="39.5" width="7" height="22.0" fill="#ffffff" stroke="#333" stroke-width="1"/>
<text transform="translate(556.02,157.2) rotate(-90)" font-size="13.3" text-anchor="end" fill="#111">HOMO-2</text>
<rect x="566.5" y="92.5" width="7" height="56.0" fill="url(#pGray)" stroke="#333" stroke-width="1"/>
<rect x="566.5" y="84.5" width="7" height="8.0" fill="url(#pPink)" stroke="#333" stroke-width="1"/>
<rect x="566.5" y="73.5" width="7" height="11.0" fill="#0000ff" stroke="#333" stroke-width="1"/>
<rect x="566.5" y="42.5" width="7" height="31.0" fill="#ffffff" stroke="#333" stroke-width="1"/>
<text transform="translate(574.28,157.2) rotate(-90)" font-size="13.3" text-anchor="end" fill="#111">HOMO-1</text>
<rect x="584.5" y="91.5" width="7" height="57.0" fill="url(#pGray)" stroke="#333" stroke-width="1"/>
<rect x="584.5" y="83.5" width="7" height="8.0" fill="url(#pPink)" stroke="#333" stroke-width="1"/>
<rect x="584.5" y="73.5" width="7" height="10.0" fill="#0000ff" stroke="#333" stroke-width="1"/>
<rect x="584.5" y="42.5" width="7" height="31.0" fill="#ffffff" stroke="#333" stroke-width="1"/>
<text transform="translate(592.54,157.2) rotate(-90)" font-size="13.3" text-anchor="end" fill="#111">HOMO</text>
<rect x="602.5" y="115.5" width="7" height="33.0" fill="url(#pGray)" stroke="#333" stroke-width="1"/>
<rect x="602.5" y="109.5" width="7" height="6.0" fill="url(#pPink)" stroke="#333" stroke-width="1"/>
<rect x="602.5" y="55.5" width="7" height="54.0" fill="#0000ff" stroke="#333" stroke-width="1"/>
<rect x="602.5" y="19.5" width="7" height="36.0" fill="#ffffff" stroke="#333" stroke-width="1"/>
<text transform="translate(610.80,157.2) rotate(-90)" font-size="13.3" text-anchor="end" fill="#111">LUMO</text>
<rect x="621.5" y="115.5" width="7" height="33.0" fill="url(#pGray)" stroke="#333" stroke-width="1"/>
<rect x="621.5" y="109.5" width="7" height="6.0" fill="url(#pPink)" stroke="#333" stroke-width="1"/>
<rect x="621.5" y="55.5" width="7" height="54.0" fill="#0000ff" stroke="#333" stroke-width="1"/>
<rect x="621.5" y="19.5" width="7" height="36.0" fill="#ffffff" stroke="#333" stroke-width="1"/>
<text transform="translate(629.06,157.2) rotate(-90)" font-size="13.3" text-anchor="end" fill="#111">LUMO+1</text>
<rect x="639.5" y="118.5" width="7" height="30.0" fill="url(#pGray)" stroke="#333" stroke-width="1"/>
<rect x="639.5" y="51.5" width="7" height="67.0" fill="url(#pPink)" stroke="#333" stroke-width="1"/>
<rect x="639.5" y="50.5" width="7" height="1.0" fill="#0000ff" stroke="#333" stroke-width="1"/>
<rect x="639.5" y="22.5" width="7" height="28.0" fill="#ffffff" stroke="#333" stroke-width="1"/>
<text transform="translate(647.32,157.2) rotate(-90)" font-size="13.3" text-anchor="end" fill="#111">LUMO+2</text>
<rect x="657.5" y="124.5" width="7" height="24.0" fill="url(#pGray)" stroke="#333" stroke-width="1"/>
<rect x="657.5" y="52.5" width="7" height="72.0" fill="url(#pPink)" stroke="#333" stroke-width="1"/>
<rect x="657.5" y="51.5" width="7" height="1.0" fill="#0000ff" stroke="#333" stroke-width="1"/>
<rect x="657.5" y="22.5" width="7" height="29.0" fill="#ffffff" stroke="#333" stroke-width="1"/>
<text transform="translate(665.58,157.2) rotate(-90)" font-size="13.3" text-anchor="end" fill="#111">LUMO+3</text>
<rect x="675.5" y="122.5" width="7" height="26.0" fill="url(#pGray)" stroke="#333" stroke-width="1"/>
<rect x="675.5" y="51.5" width="7" height="71.0" fill="url(#pPink)" stroke="#333" stroke-width="1"/>
<rect x="675.5" y="50.5" width="7" height="1.0" fill="#0000ff" stroke="#333" stroke-width="1"/>
<rect x="675.5" y="21.5" width="7" height="29.0" fill="#ffffff" stroke="#333" stroke-width="1"/>
<text transform="translate(683.84,157.2) rotate(-90)" font-size="13.3" text-anchor="end" fill="#111">LUMO+4</text>
<line x1="524.5" y1="148.8" x2="524.5" y2="145.3" stroke="#333" stroke-width="1"/>
<line x1="542.5" y1="148.8" x2="542.5" y2="145.3" stroke="#333" stroke-width="1"/>
<line x1="560.5" y1="148.8" x2="560.5" y2="145.3" stroke="#333" stroke-width="1"/>
<line x1="579.5" y1="148.8" x2="579.5" y2="145.3" stroke="#333" stroke-width="1"/>
<line x1="597.5" y1="148.8" x2="597.5" y2="145.3" stroke="#333" stroke-width="1"/>
<line x1="615.5" y1="148.8" x2="615.5" y2="145.3" stroke="#333" stroke-width="1"/>
<line x1="633.5" y1="148.8" x2="633.5" y2="145.3" stroke="#333" stroke-width="1"/>
<line x1="652.5" y1="148.8" x2="652.5" y2="145.3" stroke="#333" stroke-width="1"/>
<line x1="670.5" y1="148.8" x2="670.5" y2="145.3" stroke="#333" stroke-width="1"/>
<rect x="505.5" y="11.5" width="183.0" height="137.0" fill="none" stroke="#333" stroke-width="1"/>
<text transform="translate(469.8,135.4) rotate(-90)" font-size="13.3" fill="#111">Orbital contribution</text>
<rect x="710.5" y="71.5" width="7" height="7" fill="#ffffff" stroke="#333" stroke-width="1"/>
<text x="720.3" y="78.8" font-size="12.5" text-anchor="start" fill="#111" >O 2p</text>
<rect x="710.5" y="94.5" width="7" height="7" fill="#0000ff" stroke="#333" stroke-width="1"/>
<text x="720.3" y="101.6" font-size="12.5" text-anchor="start" fill="#111" >N 2p</text>
<rect x="710.5" y="116.5" width="7" height="7" fill="url(#pPink)" stroke="#333" stroke-width="1"/>
<text x="720.3" y="124.3" font-size="12.5" text-anchor="start" fill="#111" >C 2p</text>
<rect x="710.5" y="139.5" width="7" height="7" fill="url(#pGray)" stroke="#333" stroke-width="1"/>
<text x="720.3" y="147.3" font-size="12.5" text-anchor="start" fill="#111" >Co 3d</text>
<text x="0.5" y="271.3" font-size="14.7" text-anchor="start" fill="#111" >(d)</text>
<line x1="56.6" y1="364.9" x2="116.6" y2="285.8" stroke="#2626ee" stroke-width="1"/>
<line x1="56.6" y1="364.9" x2="116.6" y2="301.3" stroke="#2626ee" stroke-width="1"/>
<line x1="56.6" y1="364.9" x2="120.9" y2="313.7" stroke="#2626ee" stroke-width="1"/>
<line x1="56.6" y1="364.9" x2="116.8" y2="341.5" stroke="#2626ee" stroke-width="1"/>
<line x1="56.6" y1="364.9" x2="116.4" y2="381.5" stroke="#2626ee" stroke-width="1"/>
<line x1="56.6" y1="364.9" x2="123.8" y2="410.3" stroke="#2626ee" stroke-width="1"/>
<line x1="56.6" y1="364.9" x2="117.9" y2="440.6" stroke="#2626ee" stroke-width="1"/>
<line x1="174.8" y1="316.6" x2="136.7" y2="269.3" stroke="#2626ee" stroke-width="1"/>
<line x1="174.8" y1="316.6" x2="138.2" y2="282.8" stroke="#2626ee" stroke-width="1"/>
<line x1="174.8" y1="316.6" x2="138.6" y2="298.9" stroke="#2626ee" stroke-width="1"/>
<line x1="174.8" y1="316.6" x2="136.0" y2="312.8" stroke="#2626ee" stroke-width="1"/>
<line x1="174.8" y1="316.6" x2="141.2" y2="381.3" stroke="#2626ee" stroke-width="1"/>
<line x1="174.8" y1="316.6" x2="134.0" y2="410.4" stroke="#2626ee" stroke-width="1"/>
<line x1="174.8" y1="316.6" x2="138.8" y2="440.3" stroke="#2626ee" stroke-width="1"/>
<line x1="195.8" y1="353.8" x2="138.6" y2="341.5" stroke="#2626ee" stroke-width="1"/>
<line x1="195.8" y1="353.8" x2="141.2" y2="381.3" stroke="#2626ee" stroke-width="1"/>
<line x1="195.8" y1="353.8" x2="138.8" y2="440.3" stroke="#2626ee" stroke-width="1"/>
<line x1="3.2" y1="364.9" x2="11.6" y2="364.9" stroke="#000" stroke-width="2"/>
<line x1="5.7" y1="360.7" x2="5.7" y2="373.8" stroke="#f01010" stroke-width="1.1"/>
<path d="M3.4000000000000004,361.2 L5.7,357.3 L8.0,361.2 Z" fill="#f01010"/>
<line x1="9.600000000000001" y1="357.0" x2="9.600000000000001" y2="370.40000000000003" stroke="#f01010" stroke-width="1.1"/>
<path d="M7.300000000000002,369.90000000000003 L9.600000000000001,373.8 L11.900000000000002,369.90000000000003 Z" fill="#f01010"/>
<line x1="14.4" y1="364.9" x2="22.9" y2="364.9" stroke="#000" stroke-width="2"/>
<line x1="16.9" y1="360.7" x2="16.9" y2="373.8" stroke="#f01010" stroke-width="1.1"/>
<path d="M14.599999999999998,361.2 L16.9,357.3 L19.2,361.2 Z" fill="#f01010"/>
<line x1="20.8" y1="357.0" x2="20.8" y2="370.40000000000003" stroke="#f01010" stroke-width="1.1"/>
<path d="M18.5,369.90000000000003 L20.8,373.8 L23.1,369.90000000000003 Z" fill="#f01010"/>
<line x1="26.4" y1="364.9" x2="34.7" y2="364.9" stroke="#000" stroke-width="2"/>
<line x1="28.9" y1="360.7" x2="28.9" y2="373.8" stroke="#f01010" stroke-width="1.1"/>
<path d="M26.599999999999998,361.2 L28.9,357.3 L31.2,361.2 Z" fill="#f01010"/>
<line x1="32.8" y1="357.0" x2="32.8" y2="370.40000000000003" stroke="#f01010" stroke-width="1.1"/>
<path d="M30.499999999999996,369.90000000000003 L32.8,373.8 L35.099999999999994,369.90000000000003 Z" fill="#f01010"/>
<line x1="37.3" y1="364.9" x2="45.7" y2="364.9" stroke="#000" stroke-width="2"/>
<line x1="39.8" y1="360.7" x2="39.8" y2="373.8" stroke="#f01010" stroke-width="1.1"/>
<path d="M37.5,361.2 L39.8,357.3 L42.099999999999994,361.2 Z" fill="#f01010"/>
<line x1="43.699999999999996" y1="357.0" x2="43.699999999999996" y2="370.40000000000003" stroke="#f01010" stroke-width="1.1"/>
<path d="M41.4,369.90000000000003 L43.699999999999996,373.8 L45.99999999999999,369.90000000000003 Z" fill="#f01010"/>
<line x1="48.3" y1="364.9" x2="56.6" y2="364.9" stroke="#000" stroke-width="2"/>
<line x1="50.8" y1="360.7" x2="50.8" y2="373.8" stroke="#f01010" stroke-width="1.1"/>
<path d="M48.5,361.2 L50.8,357.3 L53.099999999999994,361.2 Z" fill="#f01010"/>
<text x="13.7" y="353.7" font-size="9" text-anchor="middle" fill="#111" >e</text>
<text x="27.6" y="353.7" font-size="9" fill="#111">a<tspan font-size="6.5" dy="2">1</tspan></text>
<text x="47.6" y="353.7" font-size="9" text-anchor="middle" fill="#111" >e</text>
<text x="19" y="389" font-size="11.5" text-anchor="start" fill="#111" >Co d</text>
<line x1="124.1" y1="268.7" x2="132.8" y2="268.7" stroke="#000" stroke-width="2"/>
<text x="123.8" y="266.5" font-size="9" fill="#111">a<tspan font-size="6.5" dy="2">2</tspan></text>
<line x1="118.9" y1="282.8" x2="127" y2="282.8" stroke="#000" stroke-width="2"/>
<line x1="129.4" y1="282.8" x2="138.2" y2="282.8" stroke="#000" stroke-width="2"/>
<text x="128.5" y="280" font-size="9" text-anchor="middle" fill="#111" >e</text>
<line x1="118.9" y1="298.9" x2="127" y2="298.9" stroke="#000" stroke-width="2"/>
<line x1="130" y1="298.9" x2="138.6" y2="298.9" stroke="#000" stroke-width="2"/>
<text x="128.5" y="296.2" font-size="9" text-anchor="middle" fill="#111" >e</text>
<line x1="124.7" y1="312.8" x2="133.2" y2="312.8" stroke="#000" stroke-width="2"/>
<text x="124.5" y="310" font-size="9" fill="#111">a<tspan font-size="6.5" dy="2">1</tspan></text>
<line x1="119.7" y1="341.5" x2="128.3" y2="341.5" stroke="#000" stroke-width="2"/>
<line x1="130.6" y1="341.5" x2="138.6" y2="341.5" stroke="#000" stroke-width="2"/>
<text x="128.5" y="337" font-size="9" text-anchor="middle" fill="#111" >e</text>
<line x1="118.9" y1="381.5" x2="127.5" y2="381.5" stroke="#000" stroke-width="2"/>
<line x1="129.5" y1="381.5" x2="138.1" y2="381.5" stroke="#000" stroke-width="2"/>
<text x="128.5" y="371.2" font-size="9" text-anchor="middle" fill="#111" >e</text>
<line x1="121.1" y1="377.29999999999995" x2="121.1" y2="389.8" stroke="#f01010" stroke-width="1.1"/>
<path d="M118.8,377.79999999999995 L121.1,373.9 L123.39999999999999,377.79999999999995 Z" fill="#f01010"/>
<line x1="131.5" y1="377.29999999999995" x2="131.5" y2="389.8" stroke="#f01010" stroke-width="1.1"/>
<path d="M129.2,377.79999999999995 L131.5,373.9 L133.8,377.79999999999995 Z" fill="#f01010"/>
<line x1="125.3" y1="373.1" x2="125.3" y2="386.40000000000003" stroke="#f01010" stroke-width="1.1"/>
<path d="M123.0,385.90000000000003 L125.3,389.8 L127.6,385.90000000000003 Z" fill="#f01010"/>
<line x1="135.9" y1="373.1" x2="135.9" y2="386.40000000000003" stroke="#f01010" stroke-width="1.1"/>
<path d="M133.6,385.90000000000003 L135.9,389.8 L138.20000000000002,385.90000000000003 Z" fill="#f01010"/>
<line x1="125" y1="410.4" x2="133.7" y2="410.4" stroke="#000" stroke-width="2"/>
<text x="124.7" y="400.6" font-size="9" fill="#111">a<tspan font-size="6.5" dy="2">1</tspan></text>
<line x1="126.5" y1="406.09999999999997" x2="126.5" y2="418.8" stroke="#f01010" stroke-width="1.1"/>
<path d="M124.2,406.59999999999997 L126.5,402.7 L128.8,406.59999999999997 Z" fill="#f01010"/>
<line x1="130.8" y1="402.1" x2="130.8" y2="414.8" stroke="#f01010" stroke-width="1.1"/>
<path d="M128.5,414.3 L130.8,418.2 L133.10000000000002,414.3 Z" fill="#f01010"/>
<line x1="119.3" y1="440.5" x2="127.8" y2="440.5" stroke="#000" stroke-width="2"/>
<line x1="130" y1="440.5" x2="138.6" y2="440.5" stroke="#000" stroke-width="2"/>
<text x="128.5" y="430" font-size="9" text-anchor="middle" fill="#111" >e</text>
<line x1="121.6" y1="435.0" x2="121.6" y2="447.7" stroke="#f01010" stroke-width="1.1"/>
<path d="M119.3,435.5 L121.6,431.6 L123.89999999999999,435.5 Z" fill="#f01010"/>
<line x1="132.4" y1="435.0" x2="132.4" y2="447.7" stroke="#f01010" stroke-width="1.1"/>
<path d="M130.1,435.5 L132.4,431.6 L134.70000000000002,435.5 Z" fill="#f01010"/>
<line x1="125.9" y1="431.0" x2="125.9" y2="444.3" stroke="#f01010" stroke-width="1.1"/>
<path d="M123.60000000000001,443.8 L125.9,447.7 L128.20000000000002,443.8 Z" fill="#f01010"/>
<line x1="136.7" y1="431.0" x2="136.7" y2="444.3" stroke="#f01010" stroke-width="1.1"/>
<path d="M134.39999999999998,443.8 L136.7,447.7 L139.0,443.8 Z" fill="#f01010"/>
<text x="98.1" y="462.6" font-size="11.7" fill="#111">Co(CO)<tspan font-size="8" dy="2.5">3</tspan><tspan dy="-2.5" dx="-0.3">NO</tspan></text>
<line x1="175.3" y1="316.6" x2="184.2" y2="316.6" stroke="#000" stroke-width="2"/>
<line x1="186" y1="316.6" x2="194.2" y2="316.6" stroke="#000" stroke-width="2"/>
<line x1="196.2" y1="316.6" x2="204.8" y2="316.6" stroke="#000" stroke-width="2"/>
<line x1="208.3" y1="316.6" x2="216.5" y2="316.6" stroke="#000" stroke-width="2"/>
<line x1="219" y1="316.6" x2="227.7" y2="316.6" stroke="#000" stroke-width="2"/>
<line x1="229.9" y1="316.6" x2="238.8" y2="316.6" stroke="#000" stroke-width="2"/>
<text x="175" y="311.5" font-size="9" fill="#111">a<tspan font-size="6.5" dy="2">2</tspan></text>
<text x="195" y="311.5" font-size="9" text-anchor="middle" fill="#111" >e</text>
<text x="209.3" y="311.5" font-size="9" fill="#111">a<tspan font-size="6.5" dy="2">1</tspan></text>
<text x="229.6" y="311.5" font-size="9" text-anchor="middle" fill="#111" >e</text>
<text x="190.4" y="332" font-size="12" fill="#111">3CO π<tspan font-size="8" dy="-5">*</tspan></text>
<line x1="195.8" y1="353.8" x2="204.8" y2="353.8" stroke="#000" stroke-width="2"/>
<line x1="207.1" y1="353.8" x2="215.7" y2="353.8" stroke="#000" stroke-width="2"/>
<line x1="202.3" y1="346.2" x2="202.3" y2="359.6" stroke="#f01010" stroke-width="1.1"/>
<path d="M200.0,359.1 L202.3,363 L204.60000000000002,359.1 Z" fill="#f01010"/>
<text x="203.3" y="346.8" font-size="9" text-anchor="start" fill="#111" >e</text>
<text x="191.3" y="374.3" font-size="12" fill="#111">NO π<tspan font-size="8" dy="-5">*</tspan></text>
<text x="251" y="271.3" font-size="14.7" text-anchor="start" fill="#111" >(e)</text>
<text x="321.6" y="448.1" font-size="15" text-anchor="start" fill="#111" >HOMO</text>
<text x="480.8" y="448.1" font-size="15" text-anchor="start" fill="#111" >LUMO</text>
<text x="641.2" y="448.1" font-size="15" text-anchor="start" fill="#111" >LUMO+2</text>
<use href="#h_lb" fill="url(#oB)"/>
<use href="#h_tb" fill="url(#oB)"/>
<use href="#h_tr" fill="url(#oR)"/>
<use href="#h_tb" fill="#a0002e" opacity="0.40" clip-path="url(#c_h_tr)"/>
<use href="#h_bb" fill="url(#oB)"/>
<ellipse cx="351" cy="362" rx="15" ry="14" fill="#7a2aa8" opacity="0.3"/>
<circle cx="344.4" cy="359.2" r="8" fill="url(#aBin)"/>
<line x1="346" y1="362" x2="381" y2="377" stroke="#3a3ab8" stroke-width="3" stroke-linecap="round"/>
<circle cx="380.2" cy="377.6" r="5.6" fill="url(#aBin)"/>
<use href="#h_br" fill="url(#oR)"/>
<rect x="340.6" y="302" width="3" height="24" fill="url(#stickG)"/>
<rect x="340.4" y="300" width="3.4" height="5" fill="#e02020"/>
<ellipse cx="339" cy="292.5" rx="4" ry="5.5" fill="#7a1e9a" opacity="0.5"/>
<circle cx="344.3" cy="292.3" r="5.4" fill="url(#aRo)"/>
<circle cx="316" cy="374.7" r="5" fill="url(#aRin)"/>
<use href="#h_rb" fill="url(#oB)"/>
<use href="#h_rr" fill="url(#oR)"/>
<use href="#h_rb" fill="#a0002e" opacity="0.64" clip-path="url(#c_h_rr)"/>
<use href="#h_bb" fill="#a0002e" opacity="0.32" clip-path="url(#c_h_rr)"/>
<line x1="389.5" y1="385" x2="404" y2="388" stroke="#e02020" stroke-width="2.4" stroke-linecap="round"/>
<circle cx="405.4" cy="388.3" r="5.6" fill="url(#aR)"/>
<use href="#h_bob" fill="url(#oB)"/>
<use href="#h_br" fill="#38009c" opacity="0.32" clip-path="url(#c_h_bob)"/>
<use href="#h_bor" fill="url(#oR)"/>
<use href="#h_bob" fill="#a0002e" opacity="0.40" clip-path="url(#c_h_bor)"/>
<use href="#h_br" fill="#a80c10" opacity="0.24" clip-path="url(#c_h_bor)"/>
<use href="#h_bb" fill="#a0002e" opacity="0.48" clip-path="url(#c_h_bor)"/>
<circle cx="323.5" cy="399" r="4.5" fill="url(#aR)"/>
<use href="#l_tb" fill="url(#oB)"/>
<use href="#l_tr" fill="url(#oR)"/>
<use href="#l_tb" fill="#a0002e" opacity="0.61" clip-path="url(#c_l_tr)"/>
<circle cx="503.4" cy="290.7" r="5" fill="url(#aR)"/>
<line x1="503.4" y1="296" x2="503.4" y2="320" stroke="#c04040" stroke-width="2.5" stroke-linecap="round"/>
<use href="#l_mr" fill="url(#oR)"/>
<use href="#l_mb" fill="url(#oB)"/>
<use href="#l_mr" fill="#38009c" opacity="0.64" clip-path="url(#c_l_mb)"/>
<circle cx="503.4" cy="319.7" r="4.8" fill="url(#aNin)"/>
<line x1="503.4" y1="325" x2="503.4" y2="342" stroke="#5050d0" stroke-width="2.5" stroke-linecap="round"/>
<use href="#l_bb" fill="url(#oB)"/>
<use href="#l_lr" fill="url(#oR)"/>
<use href="#l_lring" fill="url(#oRs)"/>
<use href="#l_lb" fill="url(#oB)"/>
<use href="#l_lring" fill="#14148c" opacity="0.48" clip-path="url(#c_l_lb)"/>
<use href="#l_br" fill="url(#oRs)"/>
<use href="#l_bb" fill="#14148c" opacity="0.08" clip-path="url(#c_l_br)"/>
<ellipse cx="501" cy="356.5" rx="10" ry="4.8" fill="#9a1a6a" opacity="0.45"/>
<ellipse cx="500" cy="348" rx="17" ry="4.5" fill="#b01838" opacity="0.35"/>
<line x1="523" y1="370" x2="541.6" y2="376.2" stroke="#8a6448" stroke-width="2.5" stroke-linecap="round"/>
<line x1="541.6" y1="376.2" x2="556" y2="384" stroke="#b04030" stroke-width="2.5" stroke-linecap="round"/>
<use href="#l_cr" fill="url(#oR)"/>
<circle cx="541.6" cy="376.2" r="4.5" fill="url(#gC)"/>
<use href="#l_cb" fill="url(#oBs)"/>
<use href="#l_br" fill="#14148c" opacity="0.40" clip-path="url(#c_l_cb)"/>
<use href="#l_ring" fill="url(#oRs)"/>
<use href="#l_bor" fill="url(#oR)"/>
<use href="#l_rb" fill="url(#oB)"/>
<use href="#l_rr" fill="url(#oR)"/>
<use href="#l_rb" fill="#a0002e" opacity="0.40" clip-path="url(#c_l_rr)"/>
<use href="#p_tb" fill="url(#oB)"/>
<use href="#p_tr" fill="url(#oR)"/>
<use href="#p_tb" fill="#a0002e" opacity="0.40" clip-path="url(#c_p_tr)"/>
<rect x="663.4" y="291" width="3.6" height="17" fill="#d81818"/>
<ellipse cx="665.2" cy="291.5" rx="8.5" ry="2.6" fill="#f01a1a"/>
<circle cx="665.2" cy="291.8" r="3.6" fill="url(#aR)"/>
<rect x="663.4" y="306" width="3.6" height="8" fill="url(#stickG)"/>
<use href="#p_tr2" fill="url(#oR)"/>
<use href="#p_nb" fill="url(#oB)"/>
<use href="#p_tr2" fill="#38009c" opacity="0.40" clip-path="url(#c_p_nb)"/>
<circle cx="665.2" cy="319.2" r="4.5" fill="url(#aNin)"/>
<rect x="663.8" y="323" width="2.8" height="10" fill="#7078e0" opacity="0.8"/>
<use href="#p_bb" fill="url(#oB)"/>
<use href="#p_sb" fill="url(#oB)"/>
<use href="#p_blr" fill="url(#oR)"/>
<use href="#p_rr" fill="url(#oR)"/>
<use href="#p_sb" fill="#a0002e" opacity="0.32" clip-path="url(#c_p_rr)"/>
<line x1="686.5" y1="372.2" x2="716.5" y2="383" stroke="#a08060" stroke-width="2" stroke-linecap="round"/>
<use href="#p_rb" fill="url(#oB)"/>
<use href="#p_rr" fill="#38009c" opacity="0.32" clip-path="url(#c_p_rb)"/>
<use href="#p_rbr" fill="url(#oR)"/>
<use href="#p_rb" fill="#a0002e" opacity="0.48" clip-path="url(#c_p_rbr)"/>
<ellipse cx="723" cy="383.5" rx="5" ry="2.2" fill="#e81818" transform="rotate(20 723 383.5)"/>
<circle cx="728.5" cy="385" r="4" fill="#8a2a9a" opacity="0.7"/>
<use href="#p_lb" fill="url(#oB)"/>
<use href="#p_lbr" fill="url(#oR)"/>
<use href="#p_lb" fill="#a0002e" opacity="0.40" clip-path="url(#c_p_lbr)"/>
<use href="#p_mr" fill="url(#oRs)"/>
<use href="#p_blr" fill="#14148c" opacity="0.13" clip-path="url(#c_p_mr)"/>
<use href="#p_sb" fill="#14148c" opacity="0.48" clip-path="url(#c_p_mr)"/>
<use href="#p_mcr" fill="url(#oCr)"/>
<use href="#p_fb" fill="url(#oBs)"/>
<use href="#p_mr" fill="#14148c" opacity="0.40" clip-path="url(#c_p_fb)"/>
<use href="#p_bb" fill="#14148c" opacity="0.32" clip-path="url(#c_p_fb)"/>
<use href="#p_bor" fill="url(#oR)"/>
<use href="#p_fb" fill="#a80c10" opacity="0.48" clip-path="url(#c_p_bor)"/>
<defs><ellipse id="h_lb" cx="287" cy="383" rx="7" ry="13"/><ellipse id="h_tb" cx="326.5" cy="287.5" rx="16.3" ry="19.2"/><ellipse id="h_tr" cx="357.5" cy="288.5" rx="17.3" ry="19.2"/><path id="h_bb" d="M341.8,311.6 C345.4,306.7 352.6,309.7 357.3,310.3 C362.0,310.9 365.8,312.5 370.1,315.5 C374.4,318.5 379.4,323.6 383.0,328.3 C386.6,333.0 389.5,339.5 391.5,343.8 C393.5,348.1 394.1,350.2 395.0,354.1 C395.9,358.0 397.1,362.3 397.2,367.0 C397.3,371.7 396.7,377.9 395.6,382.4 C394.5,386.9 393.4,391.2 390.5,394.0 C387.6,396.8 382.6,398.0 377.9,399.1 C373.2,400.2 367.5,400.8 362.4,400.4 C357.2,400.0 351.5,398.7 347.0,396.6 C342.5,394.5 338.2,392.0 335.4,387.6 C332.6,383.2 329.9,377.9 330.0,370.0 C330.1,362.1 334.0,349.7 336.0,340.0 C338.0,330.3 338.2,316.6 341.8,311.6Z"/><path id="h_br" d="M341.8,310.3 C339.9,307.7 332.9,309.9 329.0,310.0 C325.1,310.1 322.8,309.9 318.6,311.2 C314.4,312.4 307.8,314.2 304.0,317.5 C300.2,320.8 297.9,326.3 296.0,331.0 C294.1,335.7 294.0,340.8 292.8,345.5 C291.6,350.2 289.9,354.8 289.0,359.2 C288.1,363.6 287.5,367.4 287.7,372.1 C287.9,376.8 289.2,383.5 290.3,387.6 C291.4,391.7 290.9,395.9 294.2,396.6 C297.5,397.3 304.4,394.8 310.0,392.0 C315.6,389.2 324.2,384.0 327.6,379.8 C331.0,375.6 329.1,371.3 330.2,367.0 C331.3,362.7 332.7,358.3 334.0,354.0 C335.3,349.7 336.9,345.9 338.0,341.2 C339.1,336.5 339.9,330.9 340.5,325.8 C341.1,320.7 343.7,312.9 341.8,310.3Z"/><ellipse id="h_rb" cx="410.2" cy="392.5" rx="13.6" ry="14.8"/><ellipse id="h_rr" cx="403.3" cy="386.9" rx="14.5" ry="14.5"/><ellipse id="h_bob" cx="307.3" cy="398.6" rx="14.4" ry="18.8"/><ellipse id="h_bor" cx="333.6" cy="399.6" rx="15" ry="18.8"/><ellipse id="l_tb" cx="508.5" cy="281" rx="24.5" ry="20.3"/><ellipse id="l_tr" cx="498" cy="284.5" rx="24.6" ry="18.8"/><ellipse id="l_mr" cx="508.5" cy="320.5" rx="28.5" ry="18"/><ellipse id="l_mb" cx="498" cy="323.3" rx="28.5" ry="17.7"/><path id="l_bb" d="M464.7,368.6 C460.3,362.2 465.3,353.5 468.5,349.3 C471.7,345.1 476.6,344.9 484.0,343.5 C491.4,342.1 504.4,340.2 513.0,340.6 C521.6,341.1 529.8,344.9 535.6,346.2 C541.4,347.5 544.6,347.1 547.6,348.7 C550.6,350.3 552.3,353.3 553.6,355.6 C554.9,357.9 555.3,360.2 555.3,362.5 C555.3,364.8 554.9,367.3 553.6,369.3 C552.3,371.3 550.0,372.8 547.6,374.5 C545.2,376.2 541.6,378.5 539.0,379.6 C536.4,380.8 534.2,381.7 532.2,381.4 C530.2,381.1 528.4,378.1 527.0,377.9 C525.6,377.7 525.6,378.3 523.6,380.0 C521.6,381.7 519.8,386.7 515.0,388.0 C510.2,389.3 503.4,391.2 495.0,388.0 C486.6,384.8 469.1,375.1 464.7,368.6Z"/><ellipse id="l_lr" cx="458.5" cy="373" rx="5.8" ry="7.8"/><ellipse id="l_lring" cx="459.8" cy="381.5" rx="5.6" ry="3.4" transform="rotate(35 459.8 381.5)"/><ellipse id="l_lb" cx="454" cy="390" rx="10" ry="9.5"/><path id="l_br" d="M480.1,344.5 C483.6,342.9 488.8,341.9 493.6,341.6 C498.4,341.3 504.9,341.6 509.1,342.6 C513.3,343.6 516.3,345.0 518.7,347.4 C521.1,349.8 523.0,353.5 523.6,357.0 C524.2,360.5 523.4,364.7 522.6,368.6 C521.8,372.5 520.3,377.0 518.7,380.2 C517.1,383.4 515.5,386.3 512.9,387.9 C510.3,389.5 506.5,390.0 503.3,389.9 C500.1,389.8 496.8,388.0 493.6,387.0 C490.4,386.0 487.9,384.9 484.0,384.1 C480.1,383.3 473.7,383.4 470.5,382.1 C467.3,380.8 465.8,378.9 464.7,376.3 C463.6,373.7 463.4,369.9 463.7,366.7 C464.0,363.5 465.2,359.6 466.6,357.0 C468.1,354.4 470.1,353.3 472.4,351.2 C474.6,349.1 476.6,346.1 480.1,344.5Z"/><ellipse id="l_cr" cx="544" cy="383.5" rx="6" ry="4"/><ellipse id="l_cb" cx="483" cy="388" rx="13.5" ry="8.7"/><ellipse id="l_ring" cx="481.8" cy="397.3" rx="6.6" ry="2.3"/><ellipse id="l_bor" cx="480.6" cy="409.7" rx="13" ry="10.2"/><ellipse id="l_rb" cx="570" cy="396.4" rx="10" ry="9"/><ellipse id="l_rr" cx="565.6" cy="380.5" rx="10.3" ry="9.5"/><ellipse id="p_tb" cx="665.7" cy="278.9" rx="12.4" ry="10.3"/><path id="p_tr" d="M650.3,295.0 C650.8,292.8 653.5,290.5 656.0,289.5 C658.5,288.5 662.0,288.8 665.0,288.8 C668.0,288.8 671.5,288.5 674.0,289.5 C676.5,290.5 679.3,292.8 679.8,295.0 C680.3,297.2 678.6,300.8 677.0,303.0 C675.4,305.2 672.0,307.0 670.0,308.0 C668.0,309.0 666.7,309.0 665.0,309.0 C663.3,309.0 662.0,309.0 660.0,308.0 C658.0,307.0 654.6,305.2 653.0,303.0 C651.4,300.8 649.8,297.2 650.3,295.0Z"/><path id="p_tr2" d="M653.2,329.3 C655.4,327.3 661.2,327.7 666.0,328.0 C670.8,328.3 679.1,329.0 681.9,331.0 C684.7,333.0 684.0,337.1 683.0,340.0 C682.0,342.9 679.8,347.3 676.0,348.6 C672.2,349.9 663.9,349.4 660.0,348.0 C656.1,346.6 654.0,343.1 652.9,340.0 C651.8,336.9 651.0,331.3 653.2,329.3Z"/><ellipse id="p_nb" cx="664.6" cy="321.3" rx="25.7" ry="12.4"/><path id="p_bb" d="M660.0,378.0 C664.6,375.8 671.7,376.9 677.9,376.5 C684.1,376.1 691.8,374.9 697.2,375.4 C702.6,375.9 707.2,377.7 710.1,379.7 C713.0,381.7 713.9,384.1 714.4,387.2 C714.9,390.2 714.0,394.6 713.3,398.0 C712.6,401.4 712.1,405.1 710.1,407.6 C708.1,410.1 705.1,411.8 701.5,413.0 C697.9,414.2 692.9,414.4 688.6,415.1 C684.3,415.8 680.1,417.2 675.7,417.3 C671.3,417.4 666.3,418.1 662.0,416.0 C657.7,413.9 652.0,409.3 650.0,405.0 C648.0,400.7 648.3,394.5 650.0,390.0 C651.7,385.5 655.4,380.2 660.0,378.0Z"/><ellipse id="p_sb" cx="681.3" cy="360.3" rx="5" ry="10"/><ellipse id="p_blr" cx="633.6" cy="352.4" rx="23.6" ry="23"/><path id="p_rr" d="M687.5,346.5 C688.4,342.6 690.2,340.0 692.9,337.9 C695.6,335.8 700.0,334.5 703.6,334.0 C707.2,333.5 711.0,333.7 714.4,334.7 C717.8,335.7 721.7,337.3 724.0,340.0 C726.3,342.7 727.8,346.9 728.3,350.8 C728.8,354.7 728.3,359.7 727.2,363.6 C726.1,367.5 724.0,371.9 721.9,374.4 C719.8,376.9 717.4,378.2 714.4,378.7 C711.4,379.2 707.2,378.7 703.6,377.6 C700.0,376.5 695.6,374.9 692.9,372.2 C690.2,369.5 688.4,365.8 687.5,361.5 C686.6,357.2 686.6,350.4 687.5,346.5Z"/><path id="p_rb" d="M717.6,380.8 C718.0,378.5 720.3,373.8 723.0,371.1 C725.7,368.4 729.8,365.9 733.7,364.7 C737.6,363.4 743.2,363.1 746.6,363.6 C750.0,364.1 752.7,365.8 754.1,367.9 C755.5,370.0 755.6,373.6 755.1,376.5 C754.6,379.4 753.0,383.0 750.9,385.1 C748.8,387.2 745.9,388.9 742.3,389.4 C738.7,389.9 733.0,389.0 729.4,388.3 C725.8,387.6 722.8,386.4 720.8,385.1 C718.8,383.9 717.2,383.1 717.6,380.8Z"/><path id="p_rbr" d="M715.4,389.4 C717.3,388.1 721.7,387.6 725.1,388.3 C728.5,389.0 732.6,391.4 735.8,393.7 C739.0,396.0 743.0,399.4 744.4,402.3 C745.8,405.2 745.5,408.4 744.4,410.9 C743.3,413.4 740.9,416.2 738.0,417.3 C735.1,418.4 730.6,418.4 727.2,417.7 C723.8,417.0 719.9,415.2 717.6,413.0 C715.3,410.8 713.9,407.3 713.3,404.4 C712.7,401.5 713.5,398.3 713.9,395.8 C714.2,393.3 713.5,390.6 715.4,389.4Z"/><ellipse id="p_lb" cx="609.5" cy="370" rx="12.4" ry="12.8"/><ellipse id="p_lbr" cx="615.4" cy="397.4" rx="11.8" ry="13.4"/><ellipse id="p_mr" cx="651.8" cy="362.5" rx="31" ry="22.5"/><ellipse id="p_mcr" cx="662.5" cy="359.9" rx="20" ry="10.5"/><ellipse id="p_fb" cx="641" cy="387.2" rx="19.3" ry="14"/><ellipse id="p_bor" cx="643.8" cy="410.4" rx="19.8" ry="14.6"/><clipPath id="c_h_bob"><use href="#h_bob"/></clipPath><clipPath id="c_h_bor"><use href="#h_bor"/></clipPath><clipPath id="c_h_rr"><use href="#h_rr"/></clipPath><clipPath id="c_h_tr"><use href="#h_tr"/></clipPath><clipPath id="c_l_br"><use href="#l_br"/></clipPath><clipPath id="c_l_cb"><use href="#l_cb"/></clipPath><clipPath id="c_l_lb"><use href="#l_lb"/></clipPath><clipPath id="c_l_mb"><use href="#l_mb"/></clipPath><clipPath id="c_l_rr"><use href="#l_rr"/></clipPath><clipPath id="c_l_tr"><use href="#l_tr"/></clipPath><clipPath id="c_p_bor"><use href="#p_bor"/></clipPath><clipPath id="c_p_fb"><use href="#p_fb"/></clipPath><clipPath id="c_p_lbr"><use href="#p_lbr"/></clipPath><clipPath id="c_p_mr"><use href="#p_mr"/></clipPath><clipPath id="c_p_nb"><use href="#p_nb"/></clipPath><clipPath id="c_p_rb"><use href="#p_rb"/></clipPath><clipPath id="c_p_rbr"><use href="#p_rbr"/></clipPath><clipPath id="c_p_rr"><use href="#p_rr"/></clipPath><clipPath id="c_p_tr"><use href="#p_tr"/></clipPath></defs>
</svg></body></html>
